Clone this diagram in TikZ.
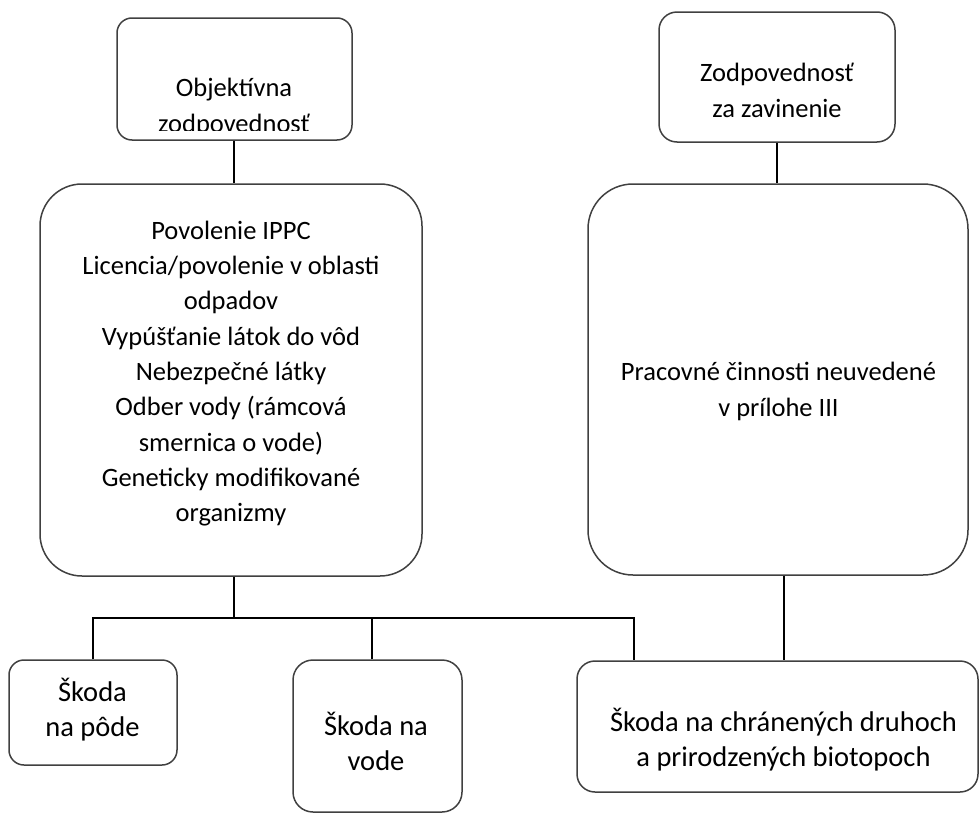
\documentclass[tikz,border=0pt]{standalone}
\usepackage{fontspec}
\setmainfont{Carlito}
\usepackage{tikz}

\begin{document}
\begin{tikzpicture}[x=1pt,y=-1pt,
    box/.style={draw=black!75, line width=1.5pt, fill=white, inner sep=0pt},
    txt/.style={inner sep=0pt, align=center, text=black,
      font=\fontsize{26.5}{35.3}\selectfont},
    bigtxt/.style={txt, font=\fontsize{28.5}{35}\selectfont},
    wire/.style={draw=black, line width=1.6pt}]
			\useasboundingbox (0,0) rectangle (980,814);
			\node [box, rounded corners=15pt, minimum width=235, minimum height=122] (obj) at (234.5,79) {};
			\node [box, rounded corners=18pt, minimum width=236, minimum height=130] (zav) at (777,77) {};
			\node [box, rounded corners=42pt, minimum width=382, minimum height=392] (zoz) at (231,380) {};
			\node [box, rounded corners=45pt, minimum width=380, minimum height=391] (cin) at (778,379.5) {};
			\node [box, rounded corners=15pt, minimum width=168, minimum height=105] (poda) at (93,712.5) {};
			\node [box, rounded corners=20pt, minimum width=169, minimum height=152] (voda) at (377.5,736) {};
			\node [box, rounded corners=18pt, minimum width=401, minimum height=131] (bio) at (777.5,726.5) {};
			\begin{scope}
			\clip (117,18) rectangle (352,130);
			\node [txt] (objtxt) at (234,107.5) {Objektívna\\zodpovednosť};
			\end{scope}
			\node [txt] (zavtxt) at (777,90.5) {Zodpovednosť\\za zavinenie};
			\node [txt] (zoztxt) at (231,373.5) {Povolenie IPPC\\Licencia/povolenie v oblasti\\odpadov\\Vypúšťanie látok do vôd\\Nebezpečné látky\\Odber vody (rámcová\\smernica o vode)\\Geneticky modifikované\\organizmy};
			\node [txt] (cintxt) at (778.5,391.5) {Pracovné činnosti neuvedené\\v prílohe III};
			\node [bigtxt] (podatxt) at (92.5,709.5) {Škoda\\na pôde};
			\node [bigtxt] (vodatxt) at (376,741.5) {Škoda na\\vode};
			\node [bigtxt] (biotxt) at (783.5,740) {Škoda na chránených druhoch\\a prirodzených biotopoch};
			\coordinate (split) at (234,618);
			\coordinate (busR) at (634,618);
			\draw [wire] (split |- obj.south) -- (split |- zoz.north);
			\draw [wire] (zav.south) -- (zav.south |- cin.north);
			\draw [wire] (split |- zoz.south) -- (split);
			\draw [wire] (poda.north) |- (busR) -- (busR |- bio.north);
			\draw [wire] ([xshift=-5.5pt]voda.north) -- ([xshift=-5.5pt]voda.north |- split);
			\draw [wire] ([xshift=6pt]cin.south) -- ([xshift=6pt]cin.south |- bio.north);
\end{tikzpicture}
\end{document}
